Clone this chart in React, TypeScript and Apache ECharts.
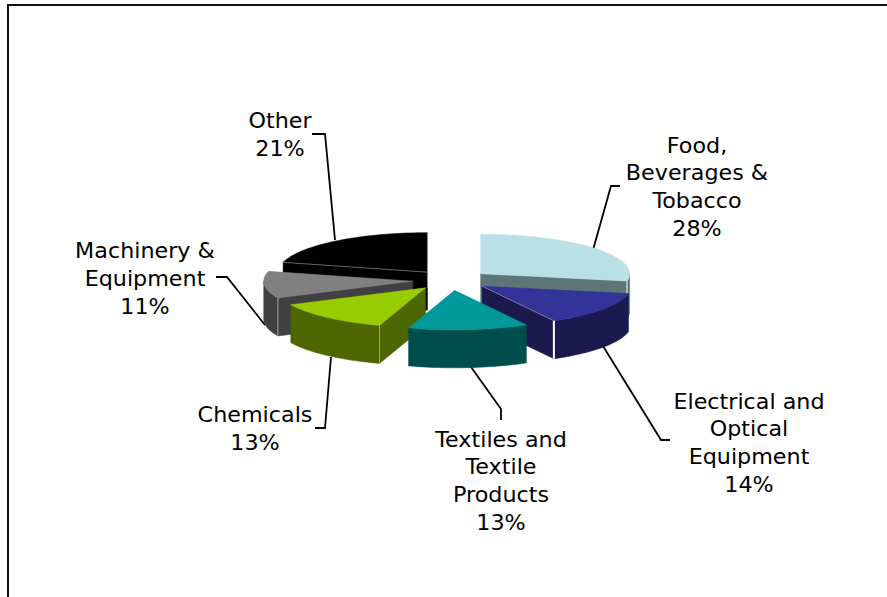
import React, { useEffect, useRef } from "react";
import * as echarts from "echarts";

// Share of each sector, clockwise from twelve o'clock.
const categories = [
  "Food,\nBeverages &\nTobacco",
  "Electrical and\nOptical\nEquipment",
  "Textiles and\nTextile\nProducts",
  "Chemicals",
  "Machinery &\nEquipment",
  "Other",
];
const shares = [28, 14, 13, 13, 11, 21];
const topColors = ["#B9E0E4", "#333399", "#009999", "#99CC00", "#808080", "#000000"];
const sideColors = ["#5E7578", "#1A1A4F", "#004D4D", "#4D6600", "#404040", "#000000"];
const cornerColors = ["#FFFFFF", "#FFFFFF", "#004D4D", "#A0A890", "#A0A0A0", "#000000"];
// Back-to-front painting order of the sectors.
const paintOrder = [5, 0, 4, 1, 3, 2];

// Label block centre and leader polyline, per sector.
const labelCentres = [
  [697, 187],
  [749, 443],
  [501, 481],
  [255, 429],
  [145, 279],
  [280, 135],
];
const leaders = [
  [[620, 186], [611, 186], [593, 250]],
  [[670, 440], [661, 440], [603, 346]],
  [[501, 420], [501, 409], [471, 367]],
  [[315, 428], [325, 428], [331, 357]],
  [[216, 277], [227, 277], [265, 325]],
  [[312, 134], [325, 134], [335, 240]],
];

const PIE = { cx: 451, cy: 280.2, rx: 149, tilt: 0.265, explode: 0.258, depth: 38 };
const FONT = '"DejaVu Sans", Verdana, sans-serif';

const total = shares.reduce((a, b) => a + b, 0);
const spans = shares.map((_, i) => {
  const before = shares.slice(0, i).reduce((a, b) => a + b, 0);
  return [(before / total) * 360, ((before + shares[i]) / total) * 360];
});

const rad = (deg: number) => (deg * Math.PI) / 180;

function arc(ox: number, oy: number, from: number, to: number, dy = 0) {
  const pts: number[][] = [];
  const n = Math.max(2, Math.ceil((to - from) / 2));
  for (let k = 0; k <= n; k++) {
    const a = rad(from + ((to - from) * k) / n);
    pts.push([ox + PIE.rx * Math.sin(a), oy - PIE.rx * PIE.tilt * Math.cos(a) + dy]);
  }
  return pts;
}

function poly(points: number[][], color: string) {
  return {
    type: "polygon",
    shape: { points },
    style: { fill: color, stroke: color, lineWidth: 0.5 },
  };
}

function edge(points: number[][], color: string, lineWidth = 1) {
  return { type: "polyline", shape: { points }, style: { stroke: color, fill: "none", lineWidth } };
}

function renderSector(params: any) {
  const i = paintOrder[params.dataIndex];
  const [a0, a1] = spans[i];
  const mid = rad((a0 + a1) / 2);
  const ox = PIE.cx + PIE.explode * PIE.rx * Math.sin(mid);
  const oy = PIE.cy - PIE.explode * PIE.rx * PIE.tilt * Math.cos(mid);
  const d = PIE.depth;
  const side = sideColors[i];
  const children: any[] = [];

  const wall = (deg: number) => {
    const [p] = arc(ox, oy, deg, deg + 1);
    children.push(poly([[ox, oy], p, [p[0], p[1] + d], [ox, oy + d]], side));
    return p;
  };
  const startPoint = a0 > 180 ? wall(a0) : null;
  const endPoint = a1 < 180 ? wall(a1) : null;

  // Rim: only the stretch of the circumference that faces the viewer.
  const from = Math.max(a0, 90);
  const to = Math.min(a1, 270);
  if (to > from) {
    const upper = arc(ox, oy, from, to);
    const lower = arc(ox, oy, from, to, d).reverse();
    children.push(poly([...upper, ...lower], side));
  }

  children.push(poly([[ox, oy], ...arc(ox, oy, a0, a1)], topColors[i]));

  // Lit corner where a cut wall meets the rim.
  const corner = startPoint ?? endPoint;
  if (corner && cornerColors[i] !== side) {
    children.push(
      edge([corner, [corner[0], corner[1] + d]], cornerColors[i], i === 1 ? 2 : 1)
    );
  }
  if (i === 1 && endPoint) {
    children.push(edge([[ox, oy], endPoint], "#8C8CA8", 0.8));
  }
  if (i === 5 && startPoint) {
    children.push(edge([[ox, oy], startPoint], "#8A8A8A", 0.7));
    const [back] = arc(ox, oy, 360, 361);
    children.push(edge([back, [back[0], oy + 16]], "#B0B0B0", 0.7));
  }
  return { type: "group", children };
}

function labelElements() {
  const items: any[] = [];
  categories.forEach((name, i) => {
    items.push({
      type: "polyline",
      shape: { points: leaders[i] },
      style: { stroke: "#000000", fill: "none", lineWidth: 1.8 },
    });
    items.push({
      type: "text",
      x: labelCentres[i][0],
      y: labelCentres[i][1],
      scaleX: 1.06,
      style: {
        text: `${name}\n${shares[i]}%`,
        font: `21px ${FONT}`,
        fill: "#000000",
        align: "center",
        verticalAlign: "middle",
        lineHeight: 27.8,
      },
    });
  });
  return items;
}

export default function App() {
  const ref = useRef<HTMLDivElement>(null);
  useEffect(() => {
    document.body.style.margin = "0";
    const chart = echarts.init(ref.current!, undefined, { renderer: "svg" });
    chart.setOption({
      animation: false,
      backgroundColor: "#FFFFFF",
      graphic: [
        {
          type: "polyline",
          shape: { points: [[8, 597], [8, 5], [887, 5]] },
          style: { stroke: "#111111", fill: "none", lineWidth: 2 },
        },
        ...labelElements(),
      ],
      series: [
        {
          type: "custom",
          coordinateSystem: "none",
          silent: true,
          data: paintOrder.map((i) => shares[i]),
          renderItem: renderSector,
        },
      ],
    });
    return () => chart.dispose();
  }, []);
  return <div ref={ref} style={{ width: 887, height: 597 }} />;
}
